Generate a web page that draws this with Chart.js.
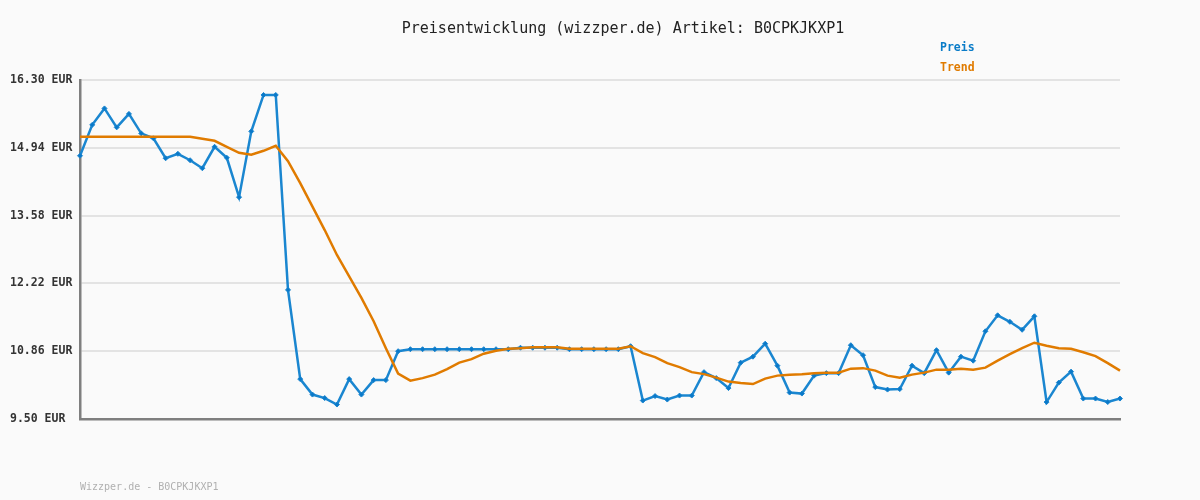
<!DOCTYPE html>
<html lang="de">
<head>
<meta charset="UTF-8">
<title>Preisentwicklung B0CPKJKXP1</title>
<script src="https://cdn.jsdelivr.net/npm/chart.js"></script>
<style>
  body { margin: 0; background: #fafafa; }
  #wrap { position: relative; width: 1200px; height: 500px; background: #fafafa; font-family: "DejaVu Sans Mono", monospace; }
  #title { position: absolute; top: 19px; left: 0; width: 1246px; text-align: center; font-size: 15px; color: #222; }
  .leg { position: absolute; left: 940px; font-size: 11.5px; font-weight: bold; }
  #footer { position: absolute; left: 80px; top: 481px; font-size: 10px; color: #b0b0b0; }
</style>
</head>
<body>
<div id="wrap">
  <canvas id="chart" width="1200" height="500"></canvas>
  <div id="title">Preisentwicklung (wizzper.de) Artikel: B0CPKJKXP1</div>
  <div class="leg" style="top:40px;color:#0a7cc8">Preis</div>
  <div class="leg" style="top:60px;color:#e07b00">Trend</div>
  <div id="footer">Wizzper.de - B0CPKJKXP1</div>
</div>
<script>
// Preis (EUR)
const preis = [
  14.78, 15.40, 15.73, 15.35, 15.62, 15.23, 15.13, 14.73, 14.82, 14.69,
  14.53, 14.96, 14.74, 13.95, 15.27, 16.00, 16.00, 12.09, 10.30, 9.99,
  9.92, 9.79, 10.30, 9.99, 10.28, 10.28, 10.86, 10.90, 10.90, 10.90,
  10.90, 10.90, 10.90, 10.90, 10.90, 10.90, 10.93, 10.93, 10.93, 10.93,
  10.90, 10.90, 10.90, 10.90, 10.90, 10.96, 9.87, 9.96, 9.89, 9.97,
  9.97, 10.44, 10.32, 10.12, 10.63, 10.75, 11.01, 10.57, 10.03, 10.01,
  10.37, 10.42, 10.42, 10.98, 10.78, 10.14, 10.09, 10.10, 10.57, 10.42,
  10.88, 10.43, 10.75, 10.67, 11.26, 11.58, 11.45, 11.29, 11.56, 9.84,
  10.23, 10.45, 9.91, 9.91, 9.84, 9.91
];

// Trend
const trend = [
  15.16, 15.16, 15.16, 15.16, 15.16, 15.16, 15.16, 15.16, 15.16, 15.16,
  15.12, 15.08, 14.96, 14.84, 14.80, 14.88, 14.98, 14.67, 14.23, 13.76,
  13.29, 12.79, 12.36, 11.93, 11.46, 10.92, 10.41, 10.27, 10.32, 10.39,
  10.50, 10.63, 10.70, 10.81, 10.87, 10.91, 10.92, 10.94, 10.94, 10.94,
  10.91, 10.91, 10.91, 10.91, 10.91, 10.96, 10.82, 10.74, 10.62, 10.54,
  10.44, 10.40, 10.33, 10.25, 10.22, 10.20, 10.31, 10.37, 10.39, 10.40,
  10.42, 10.43, 10.43, 10.51, 10.52, 10.47, 10.37, 10.33, 10.39, 10.43,
  10.49, 10.49, 10.51, 10.49, 10.53, 10.67, 10.80, 10.92, 11.03, 10.97,
  10.92, 10.91, 10.84, 10.76, 10.62, 10.47
];

const yTicks = [9.50, 10.86, 12.22, 13.58, 14.94, 16.30];
const labels = preis.map((v, i) => String(i + 1));

new Chart(document.getElementById('chart'), {
  type: 'line',
  data: {
    labels,
    datasets: [
      {
        label: 'Trend',
        data: trend,
        order: 0,
        borderColor: '#e07b00',
        borderWidth: 2.5,
        pointRadius: 0,
        tension: 0
      },
      {
        label: 'Preis',
        data: preis,
        order: 1,
        borderColor: '#1a86d0',
        backgroundColor: '#0a78c8',
        borderWidth: 2.5,
        pointStyle: 'rectRot',
        pointRadius: 2.5,
        pointBorderWidth: 1,
        tension: 0
      }
    ]
  },
  options: {
    responsive: false,
    animation: false,
    devicePixelRatio: 1,
    layout: { padding: { top: 80, right: 80, bottom: 81, left: 10 } },
    plugins: {
      legend: { display: false },
      title: { display: false },
      tooltip: { enabled: false }
    },
    scales: {
      x: {
        ticks: { display: false },
        grid: { display: false, drawTicks: false },
        border: { display: true, color: '#7f7f7f', width: 2.5 },
        afterFit: s => { s.height = 0; }
      },
      y: {
        min: 9.5,
        max: 16.3,
        afterBuildTicks: s => { s.ticks = yTicks.map(v => ({ value: v })); },
        afterFit: s => { s.width = 70; },
        ticks: {
          padding: 7,
          crossAlign: 'far',
          color: '#333',
          font: { family: 'DejaVu Sans Mono', size: 11.5, weight: 'bold' },
          callback: v => Number(v).toFixed(2) + ' EUR'
        },
        grid: { color: '#e3e3e3', lineWidth: 2, drawTicks: false },
        border: { display: true, color: '#7f7f7f', width: 2.5 }
      }
    }
  }
});
</script>
</body>
</html>
